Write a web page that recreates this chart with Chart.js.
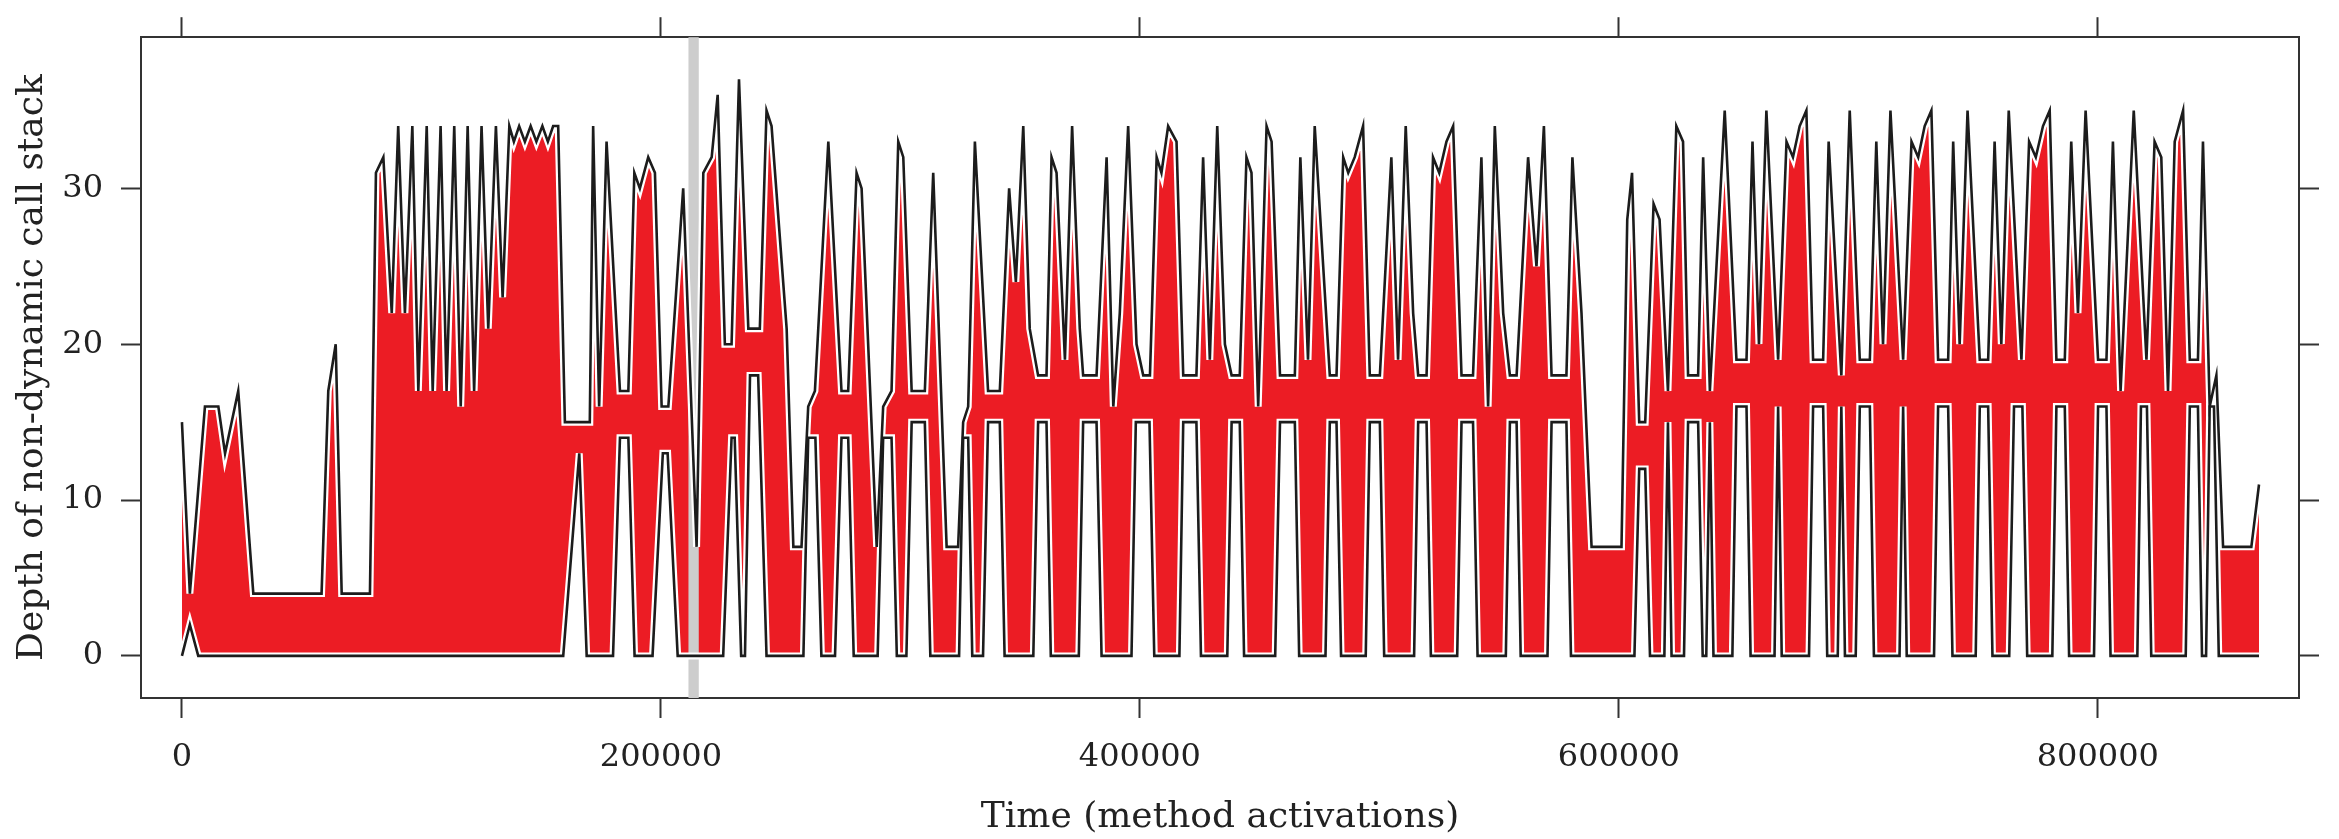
<!DOCTYPE html>
<html>
<head>
<meta charset="utf-8">
<title>Call stack depth</title>
<script src="https://cdn.jsdelivr.net/npm/chart.js@4"></script>
<style>
  html, body { margin: 0; padding: 0; background: #fff; }
  canvas { display: block; }
</style>
</head>
<body>
<canvas id="depthChart" width="2339" height="839"></canvas>
<script>
// upper edge of the stack depth band (max depth per sample)
const upperTime = [
  0, 3300, 9600, 15200, 18000, 23500, 29800, 58300, 61100, 64200, 66700, 78500,
  81000, 84100, 87600, 90300, 93100, 96200, 98700, 102200, 104700, 108000, 110500, 113700,
  116400, 119300, 122000, 125100, 127900, 131100, 133900, 136700, 138600, 140800, 143200, 145600,
  148000, 150500, 152800, 155000, 157100, 159900, 170300, 171700, 174200, 177300, 182900, 186400,
  188900, 191200, 194700, 197500, 200300, 203100, 209300, 214900, 217700, 221200, 223700, 226700,
  229500, 232600, 236500, 241300, 244100, 246200, 252500, 255300, 258700, 261500, 264300, 269900,
  275400, 278200, 281700, 283800, 290100, 292800, 296300, 299100, 301200, 304700, 310200, 313700,
  319300, 324100, 326200, 328300, 331100, 336600, 341500, 345400, 348200, 351300, 354000, 357500,
  361000, 363100, 365200, 368700, 371700, 374900, 376300, 381900, 386100, 388900, 391600, 395100,
  398600, 401400, 404200, 407000, 409000, 411800, 415300, 418100, 423600, 426400, 429200, 432300,
  435500, 438300, 441700, 444500, 446600, 449400, 452900, 455000, 458500, 464700, 467000, 470200,
  473000, 479300, 482100, 484900, 487000, 489700, 493200, 496000, 500200, 505000, 507800, 511000,
  514100, 516200, 519700, 522400, 525000, 528000, 530800, 534300, 539100, 542600, 545400, 548200,
  551700, 554500, 557300, 562100, 565600, 568700, 571900, 578100, 580600, 584400, 588600, 601100,
  603500, 605500, 608500, 611000, 614500, 617000, 620500, 624000, 626800, 628900, 633100, 635200,
  638000, 644200, 649100, 653300, 655800, 658500, 661600, 666500, 670000, 672700, 675500, 678300,
  681100, 685300, 687600, 692900, 696400, 700600, 704800, 707500, 710300, 713400, 718700, 722200,
  725000, 727700, 730500, 733300, 737500, 739600, 742300, 745600, 750700, 754200, 756900, 759700,
  762800, 768100, 771300, 774100, 777100, 779900, 782700, 786200, 788900, 791700, 794900, 800100,
  803600, 806300, 809500, 815000, 820300, 823700, 826500, 829300, 832100, 835600, 838400, 841800,
  843900, 846700, 849500, 852300, 864100, 867300
];
const upperDepth = [
  15, 4, 16, 16, 13, 17, 4, 4, 17, 20, 4, 4,
  31, 32, 22, 34, 22, 34, 17, 34, 17, 34, 17, 34,
  16, 34, 17, 34, 21, 34, 23, 34, 33, 34, 33, 34,
  33, 34, 33, 34, 34, 15, 15, 34, 16, 33, 17, 17,
  31, 30, 32, 31, 16, 16, 30, 7, 31, 32, 36, 20,
  20, 37, 21, 21, 35, 34, 21, 7, 7, 16, 17, 33,
  17, 17, 31, 30, 7, 16, 17, 33, 32, 17, 17, 31,
  7, 7, 15, 16, 33, 17, 17, 30, 24, 34, 21, 18,
  18, 32, 31, 19, 34, 21, 18, 18, 32, 16, 22, 34,
  20, 18, 18, 32, 31, 34, 33, 18, 18, 32, 19, 34,
  20, 18, 18, 32, 31, 16, 34, 33, 18, 18, 32, 19,
  34, 18, 18, 32, 31, 32, 34, 18, 18, 32, 19, 34,
  22, 18, 18, 32, 31, 33, 34, 18, 18, 32, 16, 34,
  22, 18, 18, 32, 25, 34, 18, 18, 32, 22, 7, 7,
  28, 31, 15, 15, 29, 28, 17, 34, 33, 18, 18, 32,
  17, 35, 19, 19, 33, 20, 35, 19, 33, 32, 34, 35,
  19, 19, 33, 18, 35, 19, 19, 33, 20, 35, 19, 33,
  32, 34, 35, 19, 19, 33, 20, 35, 19, 19, 33, 20,
  35, 19, 33, 32, 34, 35, 19, 19, 33, 22, 35, 19,
  19, 33, 17, 35, 19, 33, 32, 17, 33, 35, 19, 19,
  33, 16, 18, 7, 7, 11
];

// lower edge of the band (min depth per sample)
const lowerTime = [
  0, 3300, 6800, 159200, 165900, 169000, 180000, 182900, 186400, 189000,
  196500, 200800, 202800, 207000, 226000, 229500, 230800, 233500, 235100, 237200, 240600, 244100,
  259500, 261500, 264500, 267000, 272700, 275400, 278200, 280500, 290500, 292800, 296300, 298500,
  302500, 304700, 310200, 312500, 324500, 326200, 328300, 330000, 334500, 336600, 341500, 343500,
  355500, 357500, 361000, 362800, 374500, 376300, 381900, 384000, 396500, 398300, 404000, 406000,
  416500, 418100, 423600, 425500, 436500, 438300, 441700, 443500, 456500, 458500, 464700, 466500,
  477500, 479300, 482100, 484000, 494300, 496000, 500200, 502000, 514500, 516200, 519700, 521500,
  532500, 534300, 539100, 541000, 552800, 554500, 557300, 559000, 570200, 571900, 578100, 580000,
  606500, 608500, 611000, 613000, 619000, 620500, 622000, 627200, 628900, 633100, 635000,
  636500, 638000, 639500, 647400, 649100, 653300, 655000, 665000, 666500, 668000,
  679400, 681100, 685300, 687000, 691400, 692900, 694400, 698900, 700600, 704800, 706500,
  717200, 718700, 720200, 731600, 733300, 737500, 739300, 749000, 750700, 754200, 756000,
  763000, 765000, 768500, 770500, 781000, 782700, 786200, 788000, 798400, 800100, 803600, 805300,
  816500, 818000, 820500, 822300, 836700, 838400, 841800, 843500, 845200, 846700, 848500, 850500,
  867300
];
const lowerDepth = [
  0, 2, 0, 0, 13, 0, 0, 14, 14, 0,
  0, 13, 13, 0, 0, 14, 14, 0, 0, 18, 18, 0,
  0, 14, 14, 0, 0, 14, 14, 0, 0, 14, 14, 0,
  0, 15, 15, 0, 0, 14, 14, 0, 0, 15, 15, 0,
  0, 15, 15, 0, 0, 15, 15, 0, 0, 15, 15, 0,
  0, 15, 15, 0, 0, 15, 15, 0, 0, 15, 15, 0,
  0, 15, 15, 0, 0, 15, 15, 0, 0, 15, 15, 0,
  0, 15, 15, 0, 0, 15, 15, 0, 0, 15, 15, 0,
  0, 12, 12, 0, 0, 15, 0, 0, 15, 15, 0,
  0, 15, 0, 0, 16, 16, 0, 0, 16, 0,
  0, 16, 16, 0, 0, 16, 0, 0, 16, 16, 0,
  0, 16, 0, 0, 16, 16, 0, 0, 16, 16, 0,
  0, 16, 16, 0, 0, 16, 16, 0, 0, 16, 16, 0,
  0, 16, 16, 0, 0, 16, 16, 0, 0, 16, 16, 0,
  0
];

// shaded marker around one time window
const bandStart = 211500;
const bandEnd = 215800;

const xTicks = [0, 200000, 400000, 600000, 800000];
const yTicks = [0, 10, 20, 30];

const toPoints = (xs, ys) => xs.map((x, i) => ({ x: x, y: ys[i] }));
const upperPts = toPoints(upperTime, upperDepth);
const lowerPts = toPoints(lowerTime, lowerDepth);

const serif = "'DejaVu Serif', 'Liberation Serif', serif";
const ink = "#222";

const highlightBand = {
  id: "highlightBand",
  beforeDatasetsDraw(chart) {
    const { ctx, chartArea, scales } = chart;
    const x0 = scales.x.getPixelForValue(bandStart);
    const x1 = scales.x.getPixelForValue(bandEnd);
    ctx.save();
    ctx.fillStyle = "#cdcdcd";
    ctx.fillRect(x0, chartArea.top, x1 - x0, chartArea.bottom - chartArea.top);
    ctx.restore();
  },
};

function lineSet(label, pts, color, width) {
  return {
    label: label,
    data: pts,
    borderColor: color,
    borderWidth: width,
    pointRadius: 0,
    tension: 0,
    fill: false,
  };
}

const frameGrid = {
  display: true,
  drawOnChartArea: false,
  drawTicks: true,
  tickLength: 20,
  tickWidth: 2,
  tickColor: "#333",
};
const frameBorder = { display: true, color: "#333", width: 2 };

new Chart(document.getElementById("depthChart"), {
  type: "line",
  data: {
    datasets: [
      lineSet("upper", upperPts, "#1c1c1c", 2.6),
      lineSet("lower", lowerPts, "#1c1c1c", 2.6),
      lineSet("upper casing", upperPts, "#ffffff", 7),
      lineSet("lower casing", lowerPts, "#ffffff", 7),
      {
        label: "depth range",
        data: upperPts,
        borderWidth: 0,
        pointRadius: 0,
        tension: 0,
        backgroundColor: "#ec1c24",
        fill: "+1",
      },
      {
        label: "depth floor",
        data: lowerPts,
        borderWidth: 0,
        pointRadius: 0,
        tension: 0,
        fill: false,
      },
    ],
  },
  options: {
    responsive: false,
    animation: false,
    events: [],
    plugins: {
      legend: { display: false },
      tooltip: { enabled: false },
      filler: { drawTime: "beforeDatasetsDraw" },
    },
    scales: {
      x: {
        type: "linear",
        position: "bottom",
        min: -17100,
        max: 884000,
        afterBuildTicks: (s) => { s.ticks = xTicks.map((v) => ({ value: v })); },
        afterFit: (s) => { s.height = 141; },
        ticks: {
          includeBounds: false,
          padding: 20,
          color: ink,
          font: { family: serif, size: 32 },
          callback: (v) => String(v),
        },
        grid: frameGrid,
        border: frameBorder,
        title: {
          display: true,
          text: "Time (method activations)",
          color: ink,
          font: { family: serif, size: 36 },
          padding: { top: 0, bottom: 0 },
        },
      },
      x2: {
        type: "linear",
        position: "top",
        min: -17100,
        max: 884000,
        afterBuildTicks: (s) => { s.ticks = xTicks.map((v) => ({ value: v })); },
        afterFit: (s) => { s.height = 35; },
        ticks: { display: false },
        grid: frameGrid,
        border: frameBorder,
      },
      y: {
        type: "linear",
        position: "left",
        min: -2.7,
        max: 39.7,
        afterBuildTicks: (s) => { s.ticks = yTicks.map((v) => ({ value: v })); },
        afterFit: (s) => { s.width = 141; },
        ticks: {
          includeBounds: false,
          padding: 18,
          color: ink,
          font: { family: serif, size: 32 },
        },
        grid: frameGrid,
        border: frameBorder,
        title: {
          display: true,
          text: "Depth of non-dynamic call stack",
          color: ink,
          font: { family: serif, size: 36 },
          padding: { top: 11, bottom: 0 },
        },
      },
      y2: {
        type: "linear",
        position: "right",
        min: -2.7,
        max: 39.7,
        afterBuildTicks: (s) => { s.ticks = yTicks.map((v) => ({ value: v })); },
        afterFit: (s) => { s.width = 40; },
        ticks: { display: false },
        grid: frameGrid,
        border: frameBorder,
      },
    },
  },
  plugins: [highlightBand],
});
</script>
</body>
</html>
